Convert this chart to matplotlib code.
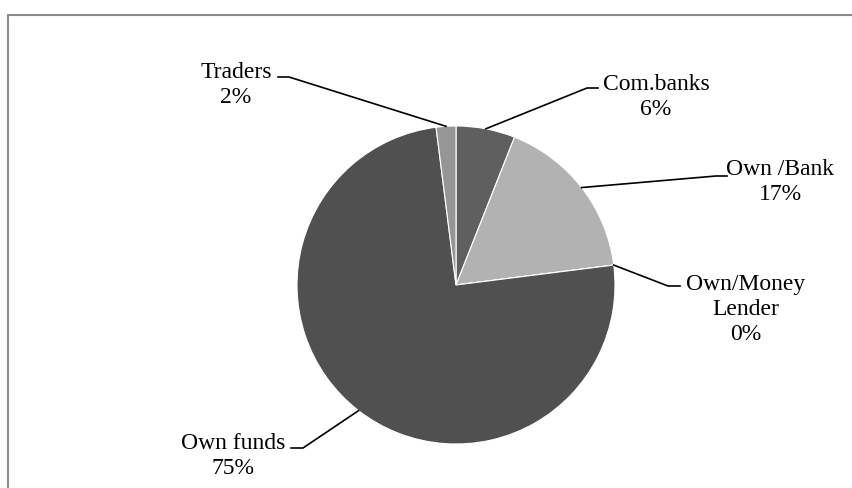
import numpy as np
import matplotlib.pyplot as plt

# data
labels = ["Com.banks", "Own /Bank", "Own/Money\nLender", "Own funds", "Traders"]
shares = [6, 17, 0, 75, 2]
colors = ["#5f5f5f", "#b2b2b2", "#8c8c8c", "#505050", "#969696"]

W, H = 853, 489
fig = plt.figure(figsize=(W / 100, H / 100), dpi=100)
ax = fig.add_axes([0, 0, 1, 1])
ax.set_xlim(0, W)
ax.set_ylim(0, H)
ax.set_aspect("equal")
ax.axis("off")

# frame (only top/left edges visible in the crop)
ax.plot([8.5, 8.5, W + 5], [-5, H - 15.5, H - 15.5], color="#8a8a8a", lw=1.5,
        solid_capstyle="butt")

cx, cy, r = 456, H - 286, 159
wedges, _ = ax.pie(shares, colors=colors, startangle=90, counterclock=False,
                   center=(cx, cy), radius=r,
                   wedgeprops=dict(edgecolor="white", linewidth=0.8))
ax.set_xlim(0, W)
ax.set_ylim(0, H)

# label layout in pixel coords (from top): text centre, elbow, line end
layout = {
    "Com.banks": ((656, 97), (587, 89), (598, 89)),
    "Own /Bank": ((780, 182), (716, 177), (727, 177)),
    "Own/Money\nLender": ((746, 310), (668, 287), (680, 287)),
    "Own funds": ((233, 456), (303, 449), (291, 449)),
    "Traders": ((236, 85), (289, 78), (278, 78)),
}

for w, lab, val in zip(wedges, labels, shares):
    ang = np.deg2rad((w.theta1 + w.theta2) / 2)
    ex = cx + r * np.cos(ang)
    ey = cy + r * np.sin(ang)
    (tx, ty), (bx, by), (lx, ly) = layout[lab]
    ax.plot([ex, bx, lx], [ey, H - by, H - ly], color="black", lw=1.2)
    ax.text(tx, H - ty, f"{lab}\n{val}%", ha="center", va="center",
            fontsize=17, family="Liberation Serif", linespacing=1.25)

fig.savefig("out.png", dpi=100)
